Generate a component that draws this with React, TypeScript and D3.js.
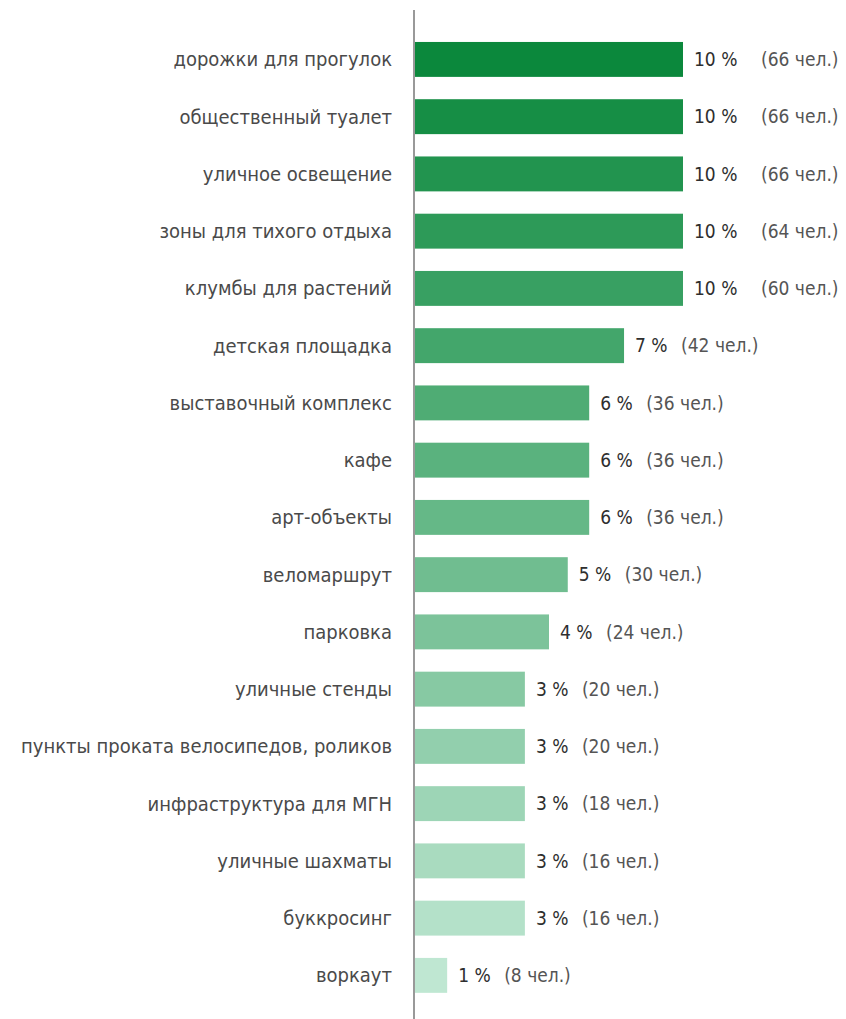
import * as d3 from 'd3'
import React from 'react'

const categories = [
  'дорожки для прогулок',
  'общественный туалет',
  'уличное освещение',
  'зоны для тихого отдыха',
  'клумбы для растений',
  'детская площадка',
  'выставочный комплекс',
  'кафе',
  'арт-объекты',
  'веломаршрут',
  'парковка',
  'уличные стенды',
  'пункты проката велосипедов, роликов',
  'инфраструктура для МГН',
  'уличные шахматы',
  'буккросинг',
  'воркаут',
]

// bar lengths as drawn in the picture (in % units)
const barValues = [10, 10, 10, 10, 10, 7.8, 6.5, 6.5, 6.5, 5.7, 5.0, 4.1, 4.1, 4.1, 4.1, 4.1, 1.2]
const percentLabels = [10, 10, 10, 10, 10, 7, 6, 6, 6, 5, 4, 3, 3, 3, 3, 3, 1]
const counts = [66, 66, 66, 64, 60, 42, 36, 36, 36, 30, 24, 20, 20, 18, 16, 16, 8]

const width = 846
const height = 1019
const axisX = 414

const App: React.FC = () => {
  const x = d3.scaleLinear().domain([0, 10]).range([axisX + 1, 683])
  const y = d3
    .scaleBand<string>()
    .domain(categories)
    .range([30.8, 1004])
    .paddingInner(0.39)
    .paddingOuter(0.195)

  const color = d3
    .scaleLinear<string>()
    .domain([0, categories.length - 1])
    .range(['#0b883c', '#bfe7d2'])
    .interpolate(d3.interpolateRgb)

  const labelFont = '"DejaVu Sans Condensed", "Liberation Sans Narrow", sans-serif'

  return (
    <div style={{ position: 'absolute', left: 0, top: 0 }}>
      <svg width={width} height={height} style={{ display: 'block', background: '#fff' }}>
        {categories.map((c, i) => {
          const yc = (y(c) || 0) + y.bandwidth() / 2
          const end = x(barValues[i])
          const pctX = end + 11
          const countX = pctX + (percentLabels[i] >= 10 ? 67 : 46)
          return (
            <g key={c}>
              <rect
                x={x(0)}
                y={y(c)}
                width={end - x(0)}
                height={y.bandwidth()}
                fill={color(i)}
              />
              <text
                x={392}
                y={yc}
                dy='0.35em'
                textAnchor='end'
                fontFamily={labelFont}
                fontSize={20}
                fill='#4a4a4a'
              >
                {c}
              </text>
              <text x={pctX} y={yc} dy='0.35em' fontFamily={labelFont} fontSize={19} fill='#2e2e2e'>
                {percentLabels[i]} %
              </text>
              <text x={countX} y={yc} dy='0.35em' fontFamily={labelFont} fontSize={19} fill='#555'>
                ({counts[i]} чел.)
              </text>
            </g>
          )
        })}
        <line x1={axisX} x2={axisX} y1={10} y2={height} stroke='#555' strokeWidth={1.2} />
      </svg>
    </div>
  )
}

export default App
